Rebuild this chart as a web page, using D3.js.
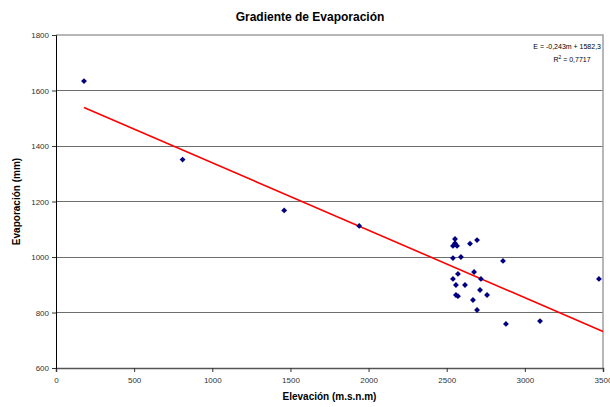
<!DOCTYPE html>
<html>
<head>
<meta charset="utf-8">
<title>Gradiente de Evaporación</title>
<style>
body { margin: 0; background: #fff; }
svg { display: block; font-family: "Liberation Sans", Arial, sans-serif; }
</style>
<script src="https://d3js.org/d3.v7.min.js"></script>
</head>
<body>
<svg id="chart" width="610" height="407"></svg>
<script>
// elevation (m.s.n.m) and evaporation (mm) of each station
const elevacion = [179, 810, 1460, 1940, 2553, 2553, 2694, 2649, 2540, 2566, 2591, 2540,
                   2675, 2572, 2540, 2719, 2617, 2559, 2713, 2559, 2572, 2758, 2668, 2694,
                   2860, 2879, 3097, 3474];
const evaporacion = [1634, 1351, 1168, 1112, 1065, 1050, 1061, 1048, 1040, 1040, 1000, 996,
                     946, 939, 921, 921, 899, 899, 881, 863, 859, 863, 845, 809,
                     986, 759, 769, 921];
const xTicks = [0, 500, 1000, 1500, 2000, 2500, 3000, 3500];
const yTicks = [600, 800, 1000, 1200, 1400, 1600, 1800];
const pendiente = -0.243;
const intercepto = 1582.3;

const svg = d3.select("#chart");
const W = 610, H = 407;
const m = {top: 35, right: 7, bottom: 39, left: 56};

const x = d3.scaleLinear().domain([0, 3500]).range([m.left, W - m.right]);
const y = d3.scaleLinear().domain([600, 1800]).range([H - m.bottom, m.top]);

// grid lines
svg.append("g").selectAll("line")
   .data(yTicks.slice(1, -1))
   .join("line")
   .attr("x1", x(0)).attr("x2", x(3500))
   .attr("y1", d => y(d)).attr("y2", d => y(d))
   .attr("stroke", "#6e6e6e").attr("stroke-width", 1)
   .attr("shape-rendering", "crispEdges");

// plot border (top, right)
svg.append("path")
   .attr("d", `M${x(0)},${y(1800)}H${x(3500)}V${y(600)}`)
   .attr("fill", "none").attr("stroke", "#a0a0a0").attr("stroke-width", 1.5);

// axes
const xAxis = svg.append("g")
   .attr("transform", `translate(0,${y(600)})`)
   .call(d3.axisBottom(x).tickValues(xTicks).tickSize(4).tickPadding(5).tickFormat(d3.format("d")));
const yAxis = svg.append("g")
   .attr("transform", `translate(${x(0)},0)`)
   .call(d3.axisLeft(y).tickValues(yTicks).tickSize(4).tickPadding(3).tickFormat(d3.format("d")));

xAxis.select(".domain").attr("stroke", "#555").attr("stroke-width", 1.5);
yAxis.select(".domain").attr("stroke", "#000");
svg.selectAll(".tick line").attr("stroke", "#333");
svg.selectAll(".tick text").attr("font-size", 8).attr("fill", "#333")
   .attr("font-family", "'Liberation Sans', Arial, sans-serif");

// trend line
const xs = [d3.min(elevacion), 3500];
svg.append("line")
   .attr("x1", x(xs[0])).attr("y1", y(pendiente * xs[0] + intercepto))
   .attr("x2", x(xs[1])).attr("y2", y(pendiente * xs[1] + intercepto))
   .attr("stroke", "#ff0000").attr("stroke-width", 1.6);

// points
const diamond = d3.symbol().type(d3.symbolDiamond2).size(22);
svg.append("g").selectAll("path")
   .data(elevacion.map((e, i) => [e, evaporacion[i]]))
   .join("path")
   .attr("transform", d => `translate(${x(d[0])},${y(d[1])})`)
   .attr("d", diamond)
   .attr("fill", "#000080");

// titles
svg.append("text")
   .attr("x", 310).attr("y", 21)
   .attr("text-anchor", "middle")
   .attr("font-size", 12).attr("font-weight", "bold")
   .text("Gradiente de Evaporación");

svg.append("text")
   .attr("x", (x(0) + x(3500)) / 2).attr("y", 400)
   .attr("text-anchor", "middle")
   .attr("font-size", 10).attr("font-weight", "bold")
   .text("Elevación (m.s.n.m)");

svg.append("text")
   .attr("transform", `translate(20,${(y(600) + y(1800)) / 2}) rotate(-90)`)
   .attr("text-anchor", "middle")
   .attr("font-size", 10).attr("font-weight", "bold")
   .text("Evaporación (mm)");

// equation
svg.append("text")
   .attr("x", 601).attr("y", 49)
   .attr("text-anchor", "end")
   .attr("font-size", 7)
   .text("E = -0,243m + 1582,3");
const r2 = svg.append("text")
   .attr("x", 572).attr("y", 62)
   .attr("text-anchor", "middle")
   .attr("font-size", 7);
r2.append("tspan").text("R");
r2.append("tspan").attr("dy", -3).attr("font-size", 5).text("2");
r2.append("tspan").attr("dy", 3).text(" = 0,7717");
</script>
</body>
</html>
